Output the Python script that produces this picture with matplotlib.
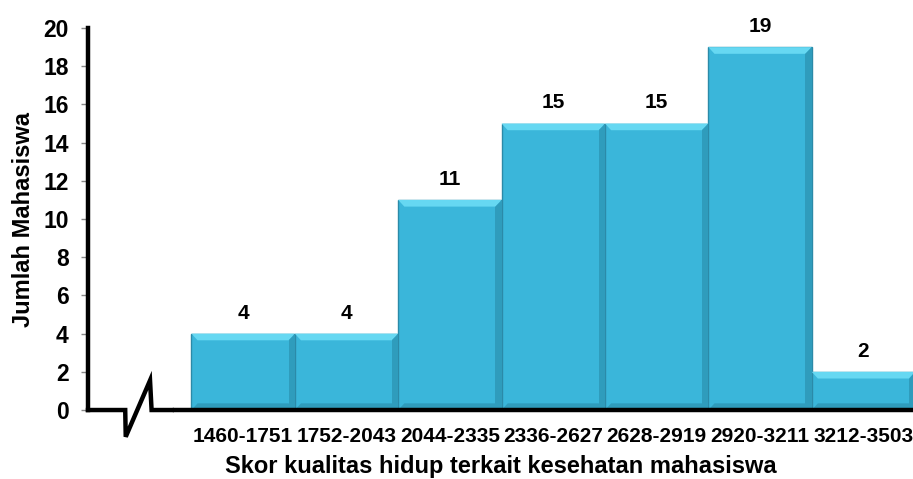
import numpy as np
import matplotlib.pyplot as plt
from matplotlib.patches import Polygon

# data
kelas = ["1460-1751", "1752-2043", "2044-2335", "2336-2627",
         "2628-2919", "2920-3211", "3212-3503"]
jumlah = [4, 4, 11, 15, 15, 19, 2]
y_ticks = [0, 2, 4, 6, 8, 10, 12, 14, 16, 18, 20]

# style
font = "Liberation Sans"
color_bar = "#3AB6DA"
color_edge = "#2B8AA8"
color_top = "#66D8F2"
color_side = "#2F9CBC"

plt.rcParams["font.family"] = font
plt.rcParams["font.weight"] = "bold"

fig = plt.figure(figsize=(9.13, 4.79), dpi=100)
ax = fig.add_axes([88/913, 0.144, 825/913, 0.7975])

x = np.arange(len(jumlah))
bars = ax.bar(x + 0.5, jumlah, width=1.0, color=color_bar,
              edgecolor=color_edge, linewidth=1.0, zorder=2)

# bevel effect on the bars
d = 0.06   # horizontal bevel size (data units)
t = 0.35   # vertical bevel size (data units)
for xi, h in zip(x, jumlah):
    x0, x1 = xi, xi + 1
    top = Polygon([(x0, h), (x1, h), (x1 - d, h - t), (x0 + d, h - t)],
                  closed=True, facecolor=color_top, edgecolor="none", zorder=3)
    right = Polygon([(x1, h), (x1, 0), (x1 - d, 0), (x1 - d, h - t)],
                    closed=True, facecolor=color_side, edgecolor="none", zorder=3)
    bottom = Polygon([(x0, 0), (x1, 0), (x1 - d, t), (x0 + d, t)],
                     closed=True, facecolor=color_side, edgecolor="none", zorder=3)
    ax.add_patch(top)
    ax.add_patch(right)
    ax.add_patch(bottom)
    ax.annotate(str(h), (xi + 0.5, h), xytext=(0, 8), textcoords="offset points",
                ha="center", va="bottom", fontsize=15, fontweight="bold")

ax.set_xlim(-1, 6.98)
ax.set_ylim(0, 20)

# axes styling
for s in ["top", "right", "bottom"]:
    ax.spines[s].set_visible(False)
ax.spines["left"].set_linewidth(3.2)
ax.spines["left"].set_color("black")
ax.spines["left"].set_zorder(5)

ax.set_yticks(y_ticks)
ax.tick_params(axis="y", length=5, width=1, color="#888888", pad=9,
               labelsize=16.5)
ax.set_xticks(x + 0.5)
ax.set_xticklabels(kelas)
ax.tick_params(axis="x", length=0, pad=12, labelsize=15)

# x axis with break mark
ax.plot([-1, -0.64, -0.635, -0.40, -0.385, -0.19], [0, 0, -1.4, 1.55, 0, 0],
        color="black", lw=3.2, clip_on=False, zorder=6, solid_joinstyle="miter")
ax.plot([-0.16, 6.98], [0, 0], color="black", lw=3.2, clip_on=False, zorder=6)

ax.set_ylabel("Jumlah Mahasiswa", fontsize=17, fontweight="bold")
ax.yaxis.set_label_coords(-0.064, 0.5)
ax.set_xlabel("Skor kualitas hidup terkait kesehatan mahasiswa",
              fontsize=17, fontweight="bold", labelpad=7)

fig.savefig("out.png", dpi=100)
